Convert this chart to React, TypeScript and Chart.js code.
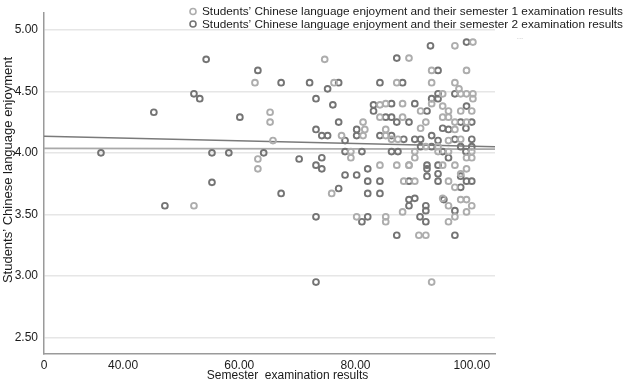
import React, { useEffect, useRef } from "react";
import { Chart, registerables } from "chart.js";

Chart.register(...registerables);

// ---- data ----
const seriesLabels = [
  "Students\u2019 Chinese language enjoyment and their semester 1 examination results",
  "Students\u2019 Chinese language enjoyment and their semester 2 examination results",
];
const xTitle = "Semester  examination results";
const yTitle = "Students\u2019 Chinese language enjoyment";

const xMin = 26.4;
const xMax = 104;
const yMin = 2.365;
const yMax = 5.135;
const xTicks = [40, 60, 80, 100];
const xStartLabel = "0";
const yTicks = [2.5, 3, 3.5, 4, 4.5, 5];

// semester 1 (light)
const sem1X = [
  52.2, 62.7, 63.2, 63.2, 65.3, 65.3, 65.8, 74.7, 75.9, 76.3, 77.6, 79.2, 79.2, 80.2, 81.3, 81.3, 81.6, 84.2,
  84.2, 84.2, 85.2, 85.2, 85.2, 85.2, 87.1, 87.1, 88.1, 88.1, 88.3, 89.2, 89.2, 90.9, 91.2, 92.1, 93.1, 93.1,
  93.1, 93.1, 95.0, 95.0, 96.0, 96.0, 96.0, 97.1, 97.1, 97.1, 97.1, 97.8, 98.1, 98.1, 99.1, 99.1, 99.1, 99.1,
  99.1, 99.1, 99.1, 100.0, 100.2, 100.2, 100.2, 96.0, 94.2, 97.1, 98.1, 96.0, 90.2, 91.2, 85.2, 87.3, 90.2,
  89.2, 95.0, 97.1, 96.0, 97.1, 95.0, 92.1, 94.2, 100.0, 98.1, 100.0, 96.0, 90.2, 86.2, 100.0, 98.1, 92.1,
  88.1, 95.0,
];
const sem1Y = [
  3.57, 4.57, 3.95, 3.87, 4.33, 4.25, 4.10, 4.76, 3.67, 4.57, 4.14, 4.01, 3.96, 3.48, 4.25, 4.14, 4.19, 4.39,
  4.29, 3.90, 4.40, 4.19, 3.48, 3.44, 4.57, 3.90, 4.40, 3.52, 3.77, 4.77, 3.90, 3.33, 4.34, 3.33, 4.67, 4.57,
  4.40, 2.95, 4.38, 4.29, 4.34, 3.57, 3.44, 4.87, 4.57, 3.48, 4.25, 4.52, 4.48, 3.62, 4.67, 4.48, 3.62, 3.52,
  4.25, 3.96, 3.87, 3.57, 4.90, 4.48, 4.44, 4.01, 4.01, 4.19, 3.83, 4.10, 3.96, 4.20, 4.14, 4.11, 4.01,
  3.90, 3.90, 3.90, 3.77, 3.72, 3.63, 4.05, 4.05, 4.01, 4.11, 3.96, 4.29, 3.77, 4.11, 4.34, 4.34, 4.25,
  4.29, 4.48,
];

// semester 2 (dark)
const sem2X = [
  36.2, 45.3, 47.2, 52.2, 53.2, 54.3, 55.3, 55.3, 58.2, 60.1, 63.2, 64.2, 67.2, 67.2, 70.3, 72.1, 73.2, 73.2,
  73.2, 73.2, 73.2, 74.2, 74.2, 74.2, 75.2, 75.2, 76.1, 77.1, 77.1, 77.1, 78.2, 78.2, 78.2, 80.2, 80.2, 80.2,
  81.1, 81.1, 82.1, 82.1, 82.1, 82.1, 83.1, 83.1, 84.2, 84.2, 84.2, 84.2, 85.2, 86.2, 86.2, 86.2, 87.1, 87.1,
  87.1, 87.3, 88.1, 89.2, 89.2, 89.2, 89.2, 90.2, 90.2, 91.2, 91.1, 92.1, 92.1, 92.1, 92.3, 92.3, 92.3, 92.3,
  92.9, 93.1, 93.1, 94.2, 94.2, 94.2, 94.2, 94.2, 95.2, 96.0, 97.1, 97.1, 97.1, 98.1, 98.1, 99.1, 99.1, 99.0,
  99.1, 100.0, 100.0, 98.1, 91.2, 93.1, 94.2, 95.0, 96.0, 100.0, 88.3, 94.2, 100.0, 90.2, 98.1, 99.0, 95.0,
  86.2, 97.1,
];
const sem2Y = [
  4.00, 4.33, 3.57, 4.48, 4.44, 4.76, 4.00, 3.76, 4.00, 4.29, 4.67, 4.00, 4.57, 3.67, 3.95, 4.57, 4.44, 4.19,
  3.90, 3.48, 2.95, 4.14, 3.96, 3.87, 4.52, 4.14, 4.39, 4.57, 4.25, 3.71, 4.10, 4.01, 3.82, 4.19, 4.14, 3.82,
  4.01, 3.44, 3.87, 3.77, 3.67, 3.48, 4.39, 4.34, 4.57, 4.14, 3.77, 3.67, 4.29, 4.40, 4.29, 4.14, 4.77, 4.25,
  3.33, 4.01, 4.57, 4.25, 3.62, 3.57, 3.77, 4.40, 4.11, 4.11, 3.48, 3.57, 3.53, 3.44, 4.34, 3.90, 3.87, 3.81,
  4.87, 4.44, 4.14, 4.67, 4.48, 4.44, 4.10, 3.90, 3.62, 4.19, 4.48, 3.53, 3.33, 4.25, 4.05, 4.90, 4.38, 4.01,
  3.77, 4.25, 4.05, 3.72, 4.05, 4.05, 3.77, 4.01, 3.96, 4.11, 4.11, 3.83, 3.77, 3.63, 3.81, 4.20, 4.20,
  4.01, 4.11,
];

// fit lines
const fitX = [26.4, 104];
const fit1Y = [4.036, 4.03];
const fit2Y = [4.135, 4.05];

const lightColor = "#adadad";
const darkColor = "#747474";
const FONT = '"Liberation Sans", Arial, Helvetica, sans-serif';

function pts(xs: number[], ys: number[]) {
  return xs.map((x, i) => ({ x, y: ys[i] }));
}

const overlayPlugin = {
  id: "overlayText",
  afterDraw(chart: any) {
    const { ctx, chartArea } = chart;
    ctx.save();
    // legend
    ctx.font = `11.8px ${FONT}`;
    ctx.textBaseline = "middle";
    ctx.textAlign = "left";
    const colors = [lightColor, darkColor];
    seriesLabels.forEach((lab, i) => {
      const cy = 11.5 + i * 12.5;
      ctx.beginPath();
      ctx.arc(193, cy, 3, 0, Math.PI * 2);
      ctx.strokeStyle = colors[i];
      ctx.lineWidth = 1.6;
      ctx.stroke();
      ctx.fillStyle = "#1a1a1a";
      ctx.fillText(lab, 202, cy + 0.5);
    });
    // small ellipsis mark
    ctx.fillStyle = "#bdbdbd";
    ctx.font = `8px ${FONT}`;
    ctx.textAlign = "center";
    ctx.fillText("...", chartArea.right + 25, 37);
    // x title
    ctx.fillStyle = "#1a1a1a";
    ctx.font = `12px ${FONT}`;
    ctx.textAlign = "center";
    ctx.fillText(xTitle, chartArea.left + (chartArea.right - chartArea.left) * 0.54, 376);
    // y title
    ctx.font = `13px ${FONT}`;
    ctx.translate(8, 170);
    ctx.rotate(-Math.PI / 2);
    ctx.fillText(yTitle, 0, 0);
    ctx.restore();
  },
};

export default function App() {
  const ref = useRef<HTMLCanvasElement | null>(null);
  useEffect(() => {
    if (!ref.current) return;
    const chart = new Chart(ref.current, {
      type: "scatter",
      data: {
        datasets: [
          {
            label: seriesLabels[0],
            data: pts(sem1X, sem1Y),
            borderColor: lightColor,
            backgroundColor: "rgba(0,0,0,0)",
            pointRadius: 2.9,
            borderWidth: 1.9,
            pointBorderWidth: 1.9,
          },
          {
            label: seriesLabels[1],
            data: pts(sem2X, sem2Y),
            borderColor: darkColor,
            backgroundColor: "rgba(0,0,0,0)",
            pointRadius: 2.9,
            borderWidth: 1.9,
            pointBorderWidth: 1.9,
          },
          {
            label: "fit1",
            data: pts(fitX, fit1Y),
            showLine: true,
            pointRadius: 0,
            borderColor: "#a9a9a9",
            borderWidth: 1.6,
          },
          {
            label: "fit2",
            data: pts(fitX, fit2Y),
            showLine: true,
            pointRadius: 0,
            borderColor: "#7a7a7a",
            borderWidth: 1.4,
          },
        ],
      },
      options: {
        animation: false,
        responsive: false,
        devicePixelRatio: 1,
        layout: { padding: { top: 5, right: 134, left: 0, bottom: 0 } },
        plugins: {
          legend: { display: false },
          tooltip: { enabled: false },
        },
        scales: {
          x: {
            type: "linear",
            min: xMin,
            max: xMax,
            afterBuildTicks: (s: any) => {
              s.ticks = [{ value: xMin }, ...xTicks.map((v) => ({ value: v }))];
            },
            afterFit: (s: any) => {
              s.height = 27;
            },
            ticks: {
              autoSkip: false,
              maxRotation: 0,
              padding: 4,
              color: "#1a1a1a",
              font: { family: FONT, size: 12 },
              callback: (v: any) => (v === xMin ? xStartLabel : Number(v).toFixed(2)),
            },
            grid: { display: false, drawTicks: false },
            border: { display: true, color: "#9a9a9a", width: 1.5 },
          },
          y: {
            type: "linear",
            min: yMin,
            max: yMax,
            afterBuildTicks: (s: any) => {
              s.ticks = yTicks.map((v) => ({ value: v }));
            },
            afterFit: (s: any) => {
              s.width = 44;
            },
            ticks: {
              autoSkip: false,
              padding: 6,
              color: "#1a1a1a",
              font: { family: FONT, size: 12 },
              callback: (v: any) => Number(v).toFixed(2),
            },
            grid: { color: "#e6e6e6", lineWidth: 1.5, drawTicks: false },
            border: { display: true, color: "#9a9a9a", width: 1.5 },
          },
        },
      },
      plugins: [overlayPlugin],
    });
    return () => chart.destroy();
  }, []);
  return (
    <div style={{ position: "absolute", left: 0, top: 0, width: 629, height: 381, background: "#fff" }}>
      <canvas ref={ref} width={629} height={381} />
    </div>
  );
}
